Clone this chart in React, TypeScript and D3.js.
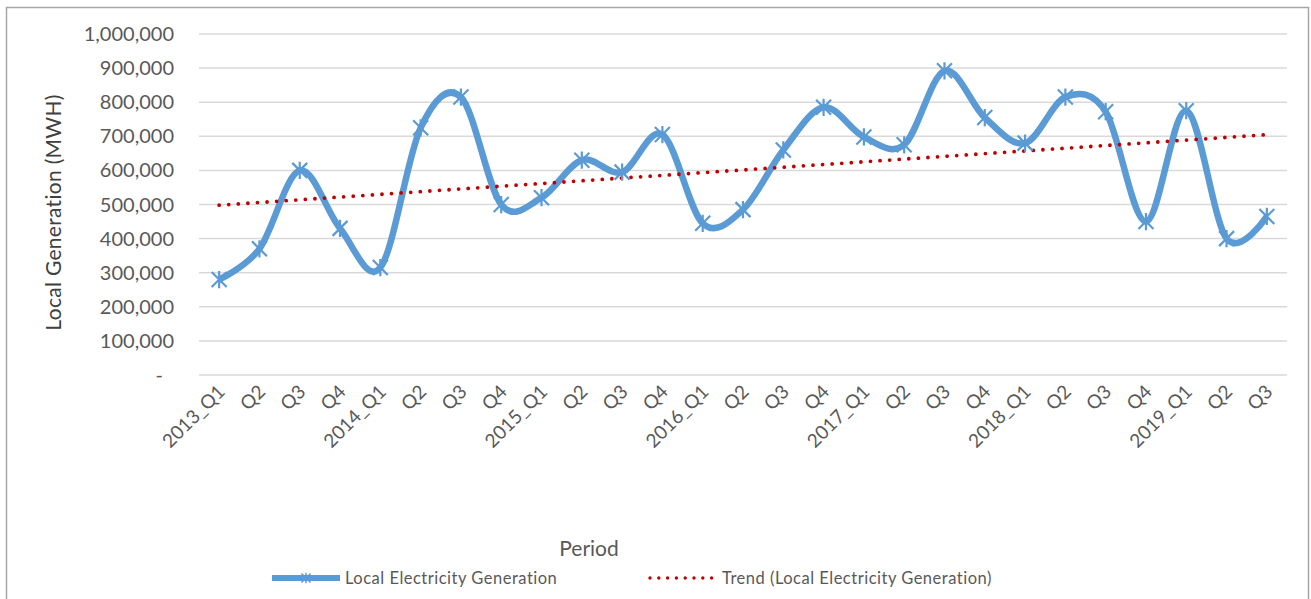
import { useEffect, useRef } from 'react'
import * as d3 from 'd3'

const PERIODS = [
  '2013_Q1', 'Q2', 'Q3', 'Q4', '2014_Q1', 'Q2', 'Q3', 'Q4', '2015_Q1', 'Q2', 'Q3', 'Q4',
  '2016_Q1', 'Q2', 'Q3', 'Q4', '2017_Q1', 'Q2', 'Q3', 'Q4', '2018_Q1', 'Q2', 'Q3', 'Q4',
  '2019_Q1', 'Q2', 'Q3',
]
const GENERATION = [
  280000, 370000, 600000, 430000, 315000, 725000, 815000, 500000, 520000, 630000, 595000, 705000,
  445000, 485000, 660000, 785000, 698000, 675000, 892000, 755000, 680000, 815000, 772000, 450000,
  775000, 400000, 465000,
]
const Y_TICKS = [0, 100000, 200000, 300000, 400000, 500000, 600000, 700000, 800000, 900000, 1000000]

const W = 1311
const H = 599
const BLUE = '#5B9BD5'
const RED = '#C00000'
const TEXT = '#595959'
const FONT = 'Lato, "Open Sans", sans-serif'

// the star marker Excel draws: an X with a vertical bar through it
const starPath = (s: number) =>
  `M${-s},${-s}L${s},${s}M${-s},${s}L${s},${-s}M0,${-s * 1.15}L0,${s * 1.15}`

export default function App() {
  const svgRef = useRef<SVGSVGElement>(null)

  useEffect(() => {
    const svg = d3.select(svgRef.current)
    svg.selectAll('*').remove()

    const m = { left: 199, right: W - 1287, top: 34, bottom: H - 375 }
    const x = d3.scaleBand<number>().domain(d3.range(PERIODS.length)).range([m.left, W - m.right])
    const cx = (i: number) => (x(i) ?? 0) + x.bandwidth() / 2
    const y = d3.scaleLinear().domain([0, 1000000]).range([H - m.bottom, m.top])

    // chart area frame
    svg.append('rect').attr('x', 6.5).attr('y', 7.5).attr('width', 1302).attr('height', 620)
      .attr('fill', '#fff').attr('stroke', '#A6A6A6').attr('stroke-width', 1.5)

    // gridlines
    svg.append('g').selectAll('line').data(Y_TICKS).join('line')
      .attr('x1', m.left).attr('x2', W - m.right)
      .attr('y1', (d) => y(d)).attr('y2', (d) => y(d))
      .attr('stroke', '#D9D9D9').attr('stroke-width', 1.5)

    // y tick labels
    const fmt = d3.format(',')
    svg.append('g').selectAll('text').data(Y_TICKS).join('text')
      .attr('x', (d) => (d === 0 ? 163 : 174)).attr('y', (d) => y(d)).attr('dy', '0.35em')
      .attr('text-anchor', 'end').attr('fill', TEXT)
      .style('font', `20px ${FONT}`)
      .text((d) => (d === 0 ? '-' : fmt(d)))

    // y title
    svg.append('text')
      .attr('transform', `translate(61,${(y(0) + y(1000000)) / 2 + 8}) rotate(-90)`)
      .attr('text-anchor', 'middle').attr('fill', '#404040')
      .style('font', `21px ${FONT}`).style('letter-spacing', '0.3px')
      .text('Local Generation (MWH)')

    // x tick labels, rotated
    svg.append('g').selectAll('text').data(PERIODS).join('text')
      .attr('transform', (_d, i) => `translate(${cx(i) + 7},${y(0) + 18}) rotate(-45)`)
      .attr('text-anchor', 'end').attr('fill', TEXT)
      .style('font', `19px ${FONT}`)
      .text((d) => d)

    // x title
    svg.append('text').attr('x', 589).attr('y', 556).attr('text-anchor', 'middle')
      .attr('fill', TEXT).style('font', `21px ${FONT}`).text('Period')

    // linear trend (least squares over the series)
    const idx = d3.range(GENERATION.length)
    const mx = d3.mean(idx) ?? 0
    const my = d3.mean(GENERATION) ?? 0
    const slope = d3.sum(idx, (i) => (i - mx) * (GENERATION[i] - my)) / d3.sum(idx, (i) => (i - mx) ** 2)
    const trend = idx.map((i) => my + slope * (i - mx))

    const smooth = d3.line<number>().x((_d, i) => cx(i)).y((d) => y(d)).curve(d3.curveCardinal.tension(0))
    svg.append('path').datum(GENERATION).attr('d', smooth).attr('fill', 'none')
      .attr('stroke', BLUE).attr('stroke-width', 6.5).attr('stroke-linejoin', 'round')

    const straight = d3.line<number>().x((_d, i) => cx(i)).y((d) => y(d))
    svg.append('path').datum(trend).attr('d', straight).attr('fill', 'none')
      .attr('stroke', RED).attr('stroke-width', 3.8).attr('stroke-linecap', 'round')
      .attr('stroke-dasharray', '0 9.6')

    svg.append('g').selectAll('path').data(GENERATION).join('path')
      .attr('transform', (d, i) => `translate(${cx(i)},${y(d)})`)
      .attr('d', starPath(7.5)).attr('fill', 'none').attr('stroke', BLUE).attr('stroke-width', 2.2)

    // legend
    const lg = svg.append('g').attr('transform', 'translate(0,578)')
    lg.append('line').attr('x1', 272).attr('x2', 340).attr('y1', 0).attr('y2', 0)
      .attr('stroke', BLUE).attr('stroke-width', 6)
    lg.append('path').attr('transform', 'translate(306,0)').attr('d', starPath(4.5))
      .attr('fill', 'none').attr('stroke', BLUE).attr('stroke-width', 1.5)
    lg.append('text').attr('x', 345).attr('y', 0).attr('dy', '0.35em').attr('fill', TEXT)
      .style('font', `16.5px ${FONT}`).style('letter-spacing', '0.5px').text('Local Electricity Generation')
    lg.append('line').attr('x1', 650).attr('x2', 712).attr('y1', 0).attr('y2', 0)
      .attr('stroke', RED).attr('stroke-width', 3.4).attr('stroke-linecap', 'round')
      .attr('stroke-dasharray', '0 8.8')
    lg.append('text').attr('x', 722).attr('y', 0).attr('dy', '0.35em').attr('fill', TEXT)
      .style('font', `16.5px ${FONT}`).style('letter-spacing', '0.5px').text('Trend (Local Electricity Generation)')
  }, [])

  return (
    <div style={{ position: 'fixed', left: 0, top: 0, width: W, height: H, background: '#fff' }}>
      <svg ref={svgRef} width={W} height={H} style={{ display: 'block' }} />
    </div>
  )
}
